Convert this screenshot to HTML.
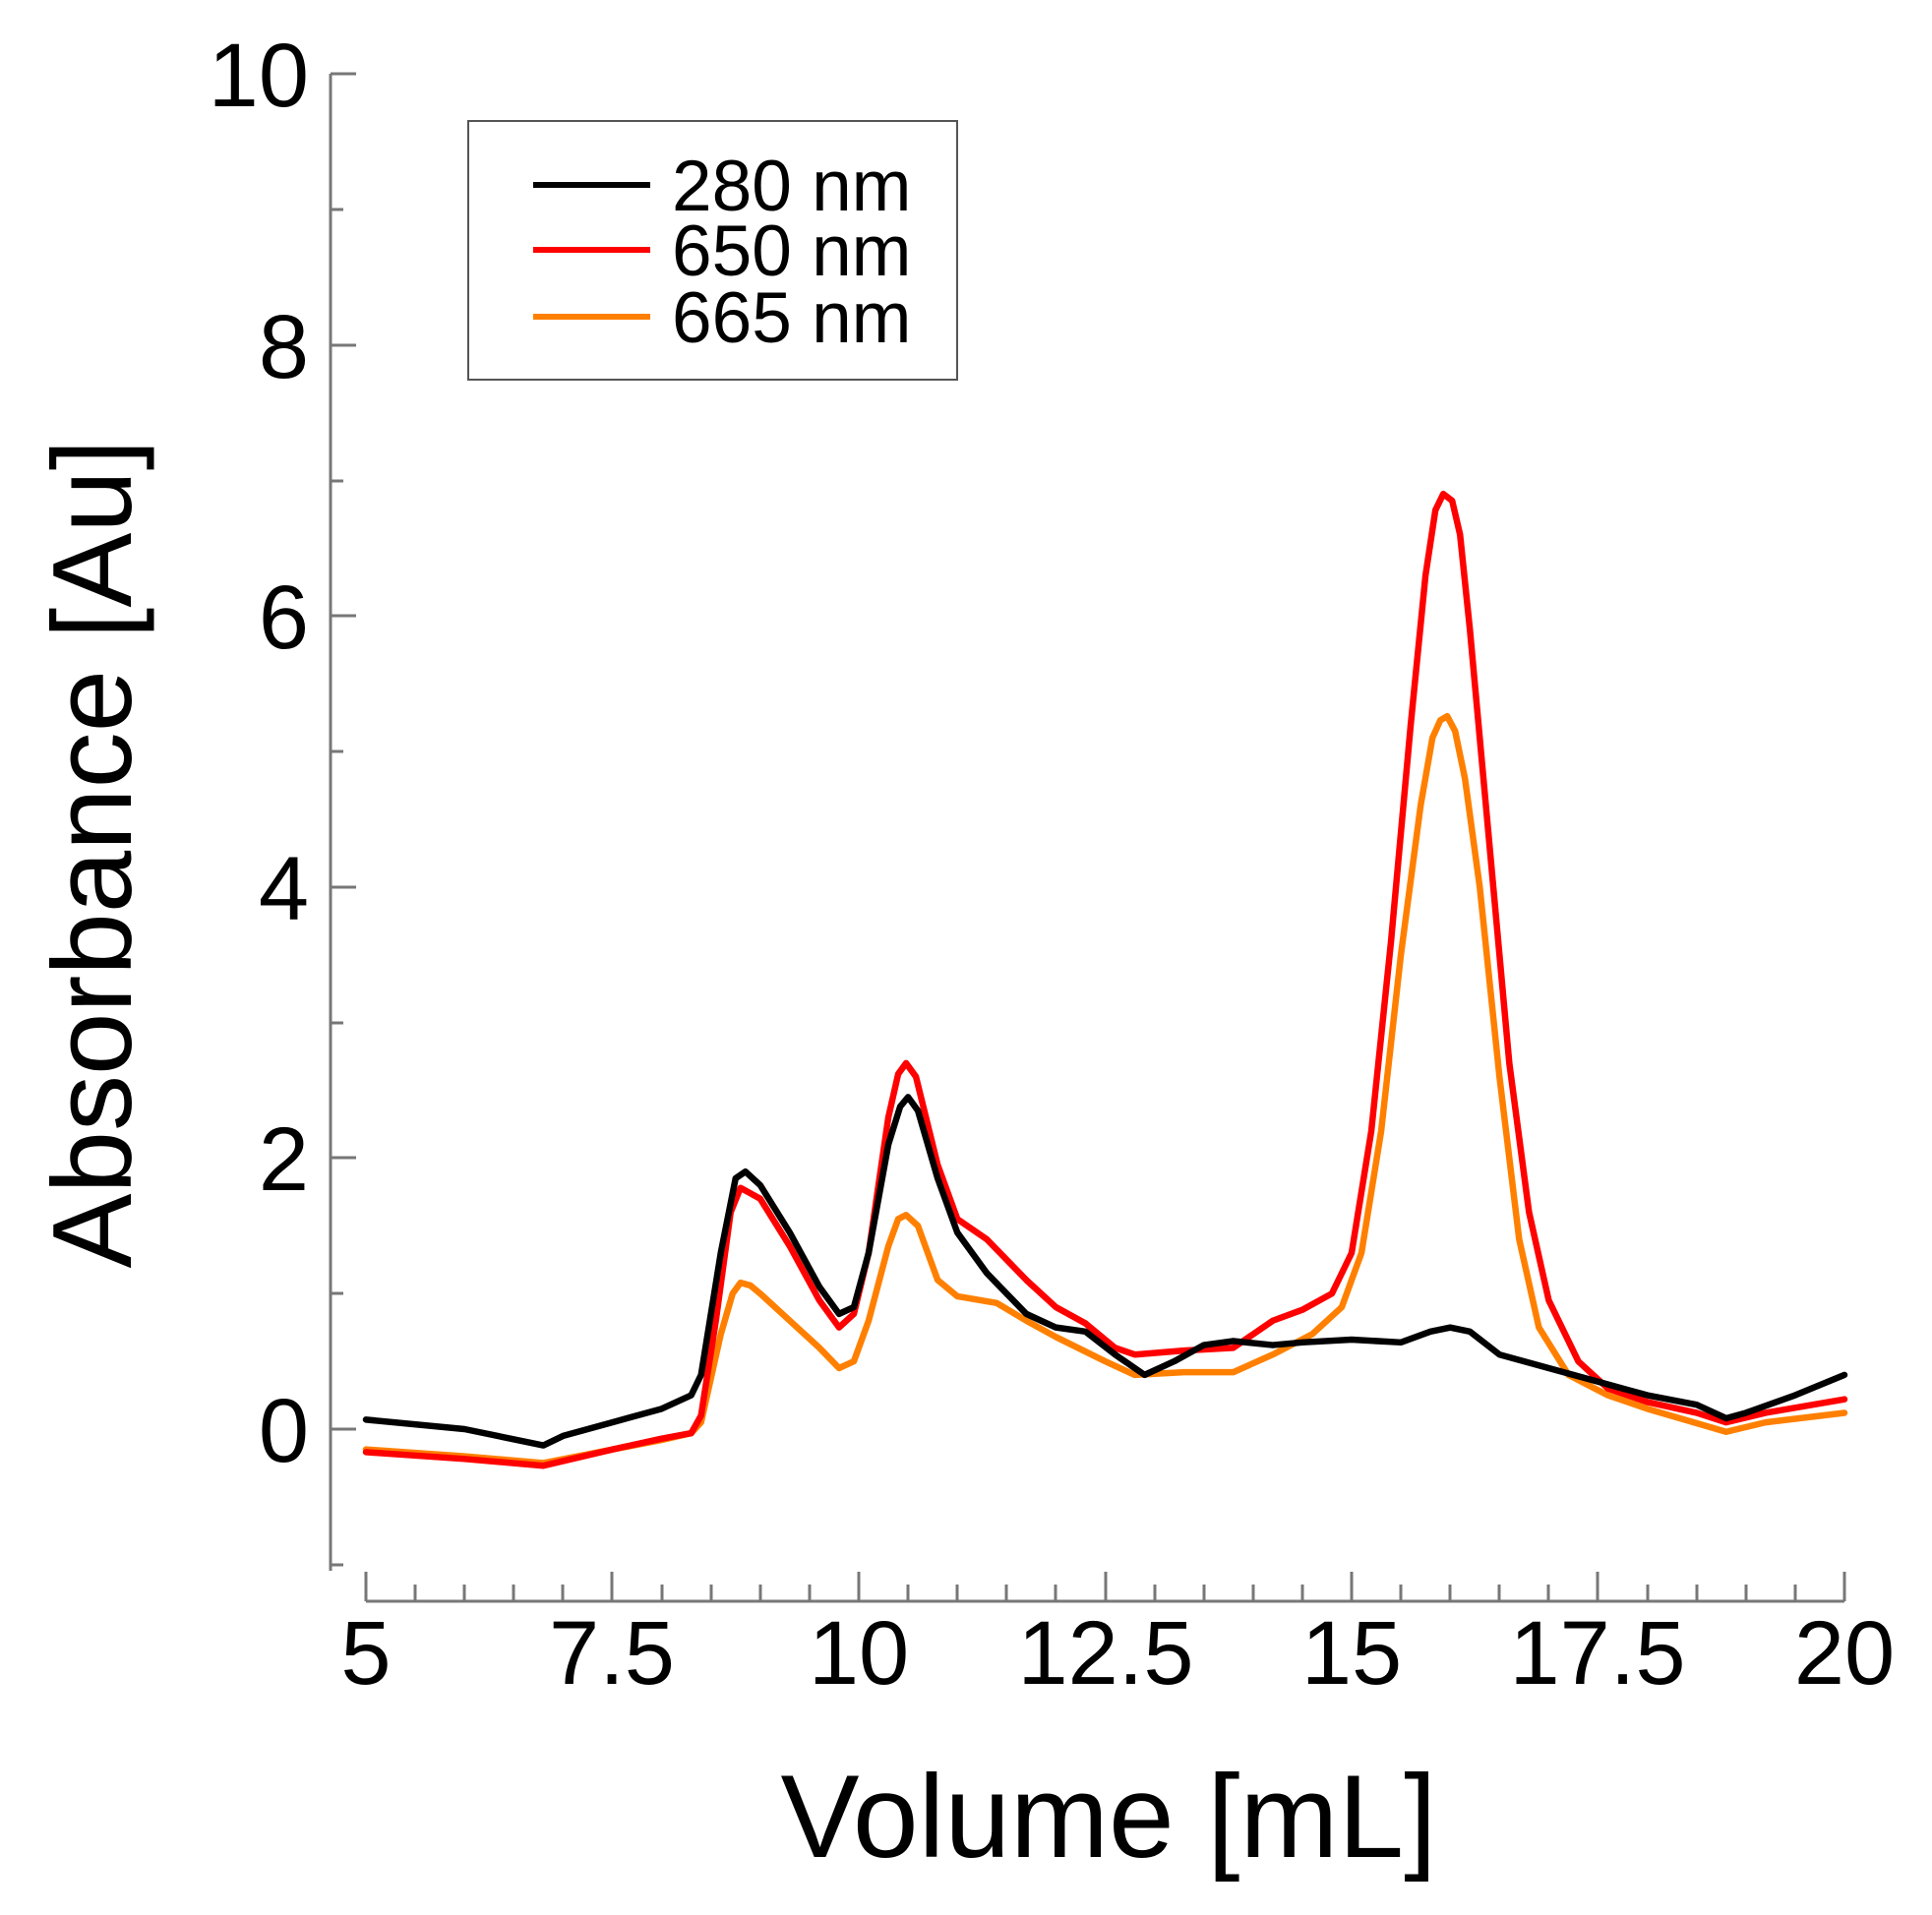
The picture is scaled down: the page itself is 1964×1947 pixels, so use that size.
<!DOCTYPE html>
<html><head><meta charset="utf-8"><style>
html,body{margin:0;padding:0;background:#fff;}
svg{display:block;}
text{font-family:"Liberation Sans",Arial,sans-serif;fill:#000;}
</style></head><body>
<svg width="1964" height="1947" viewBox="0 0 1964 1947" xmlns="http://www.w3.org/2000/svg">
<rect width="1964" height="1947" fill="#fff"/>
<g stroke="#777" stroke-width="3" fill="none">
<line x1="336" y1="75" x2="336" y2="1597"/>
<line x1="372" y1="1628" x2="1875" y2="1628"/>
<path d="M336 75h26M336 213h13M336 351h26M336 489h13M336 626h26M336 764h13M336 902h26M336 1040h13M336 1177h26M336 1315h13M336 1453h26M336 1591h13"/>
<path d="M372 1628v-30M422 1628v-17M472 1628v-17M522 1628v-17M572 1628v-17M622 1628v-30M673 1628v-17M723 1628v-17M773 1628v-17M823 1628v-17M873 1628v-30M923 1628v-17M973 1628v-17M1023 1628v-17M1073 1628v-17M1124 1628v-30M1174 1628v-17M1224 1628v-17M1274 1628v-17M1324 1628v-17M1374 1628v-30M1424 1628v-17M1474 1628v-17M1524 1628v-17M1574 1628v-17M1624 1628v-30M1675 1628v-17M1725 1628v-17M1775 1628v-17M1825 1628v-17M1875 1628v-30"/>
</g>
<g font-size="92" text-anchor="end">
<text x="314" y="108">10</text>
<text x="314" y="384">8</text>
<text x="314" y="659">6</text>
<text x="314" y="935">4</text>
<text x="314" y="1210">2</text>
<text x="314" y="1486">0</text>
</g>
<g font-size="92" text-anchor="middle">
<text x="372" y="1712">5</text>
<text x="622" y="1712">7.5</text>
<text x="873" y="1712">10</text>
<text x="1124" y="1712">12.5</text>
<text x="1374" y="1712">15</text>
<text x="1624" y="1712">17.5</text>
<text x="1875" y="1712">20</text>
</g>
<text x="1127" y="1888" font-size="120" text-anchor="middle">Volume [mL]</text>
<text transform="translate(133,868) rotate(-90)" font-size="114" text-anchor="middle">Absorbance [Au]</text>
<g transform="translate(-129,1453) scale(100.2,-137.8)" fill="none" stroke-width="6.5" stroke-linejoin="round" stroke-linecap="round">
<polyline vector-effect="non-scaling-stroke" stroke="#ff8000" points="5,-0.15 6,-0.2 6.8,-0.25 7.5,-0.15 8,-0.08 8.3,-0.03 8.4,0.05 8.6,0.7 8.72,1 8.8,1.08 8.9,1.06 9,1 9.3,0.8 9.6,0.6 9.8,0.45 9.95,0.5 10.1,0.8 10.3,1.35 10.4,1.55 10.48,1.58 10.6,1.5 10.8,1.1 11,0.98 11.4,0.93 11.7,0.8 12,0.68 12.5,0.5 12.8,0.4 13.3,0.42 13.8,0.42 14.2,0.55 14.6,0.7 14.9,0.9 15.1,1.3 15.3,2.2 15.5,3.5 15.7,4.6 15.82,5.1 15.9,5.23 15.97,5.26 16.05,5.15 16.15,4.8 16.3,4 16.5,2.6 16.7,1.4 16.9,0.75 17.2,0.4 17.6,0.25 18,0.15 18.8,-0.02 19.2,0.05 20,0.12"/>
<polyline vector-effect="non-scaling-stroke" stroke="#ff0000" points="5,-0.17 6,-0.22 6.8,-0.27 7.5,-0.15 8,-0.07 8.3,-0.03 8.4,0.1 8.55,0.8 8.7,1.6 8.8,1.78 9,1.7 9.3,1.35 9.6,0.95 9.8,0.75 9.95,0.85 10.1,1.3 10.3,2.3 10.4,2.62 10.48,2.7 10.58,2.6 10.8,1.95 11,1.55 11.3,1.4 11.7,1.1 12,0.9 12.3,0.78 12.6,0.6 12.8,0.55 13.3,0.58 13.8,0.6 14.2,0.8 14.5,0.88 14.8,1 15,1.3 15.2,2.2 15.4,3.6 15.6,5.2 15.75,6.3 15.85,6.78 15.93,6.9 16.02,6.85 16.1,6.6 16.2,5.9 16.4,4.3 16.6,2.7 16.8,1.6 17,0.95 17.3,0.5 17.6,0.3 18,0.2 18.5,0.12 18.8,0.05 19.2,0.12 20,0.22"/>
<polyline vector-effect="non-scaling-stroke" stroke="#000" points="5,0.07 6,0 6.8,-0.12 7,-0.05 7.5,0.05 8,0.15 8.3,0.25 8.4,0.4 8.6,1.3 8.75,1.85 8.85,1.9 9,1.8 9.3,1.45 9.6,1.05 9.8,0.85 9.95,0.9 10.1,1.3 10.3,2.1 10.42,2.38 10.5,2.45 10.6,2.35 10.8,1.85 11,1.45 11.3,1.15 11.7,0.85 12,0.75 12.3,0.72 12.6,0.55 12.9,0.4 13.2,0.5 13.5,0.62 13.8,0.65 14.2,0.62 14.5,0.64 15,0.66 15.5,0.64 15.8,0.72 16,0.75 16.2,0.72 16.5,0.55 17,0.45 17.5,0.35 18,0.25 18.5,0.18 18.8,0.08 19,0.12 19.5,0.25 20,0.4"/>
</g>
<rect x="476" y="123" width="497" height="263" fill="#fff" stroke="#555" stroke-width="2"/>
<g stroke-width="6">
<line x1="542" y1="188" x2="661" y2="188" stroke="#000"/>
<line x1="542" y1="254" x2="661" y2="254" stroke="#ff0000"/>
<line x1="542" y1="322" x2="661" y2="322" stroke="#ff8000"/>
</g>
<g font-size="73">
<text x="683" y="214">280 nm</text>
<text x="683" y="280">650 nm</text>
<text x="683" y="348">665 nm</text>
</g>
</svg>
</body></html>
